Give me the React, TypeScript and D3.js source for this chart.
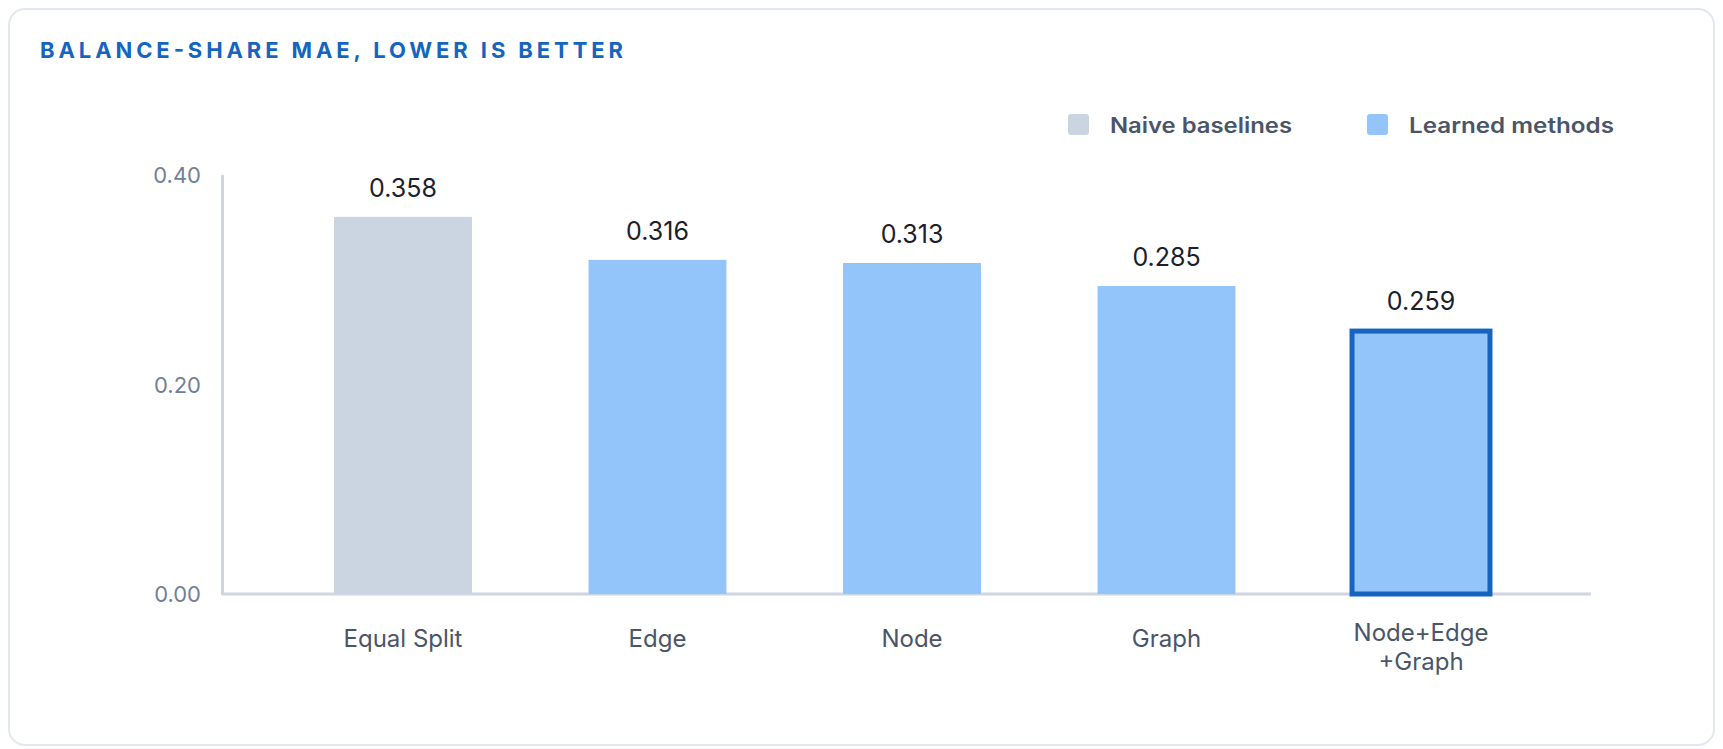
import React from "react";
import * as d3 from "d3";

const categories = ["Equal Split", "Edge", "Node", "Graph", "Node+Edge+Graph"];
const categoryLines = [["Equal Split"], ["Edge"], ["Node"], ["Graph"], ["Node+Edge", "+Graph"]];
const barValues = [0.36, 0.319, 0.316, 0.294, 0.251];
const valueLabels = ["0.358", "0.316", "0.313", "0.285", "0.259"];
const groups = ["naive", "learned", "learned", "learned", "learned"];
const highlighted = ["Node+Edge+Graph"];
const yTicks = [0, 0.2, 0.4];
const legendItems = [
  { key: "naive", label: "Naive baselines" },
  { key: "learned", label: "Learned methods" },
];

const W = 1723;
const H = 749;
const FONT = "Inter, 'Open Sans', 'DejaVu Sans', sans-serif";
const colors: Record<string, string> = { naive: "#cbd5e1", learned: "#93c5fb" };
const HIGHLIGHT = "#1565c0";
const AXIS = "#cdd6e2";

export default function App() {
  const axisX = 222.5;
  const y = d3.scaleLinear().domain([0, 0.4]).range([594, 175]);
  const x = d3
    .scaleBand<string>()
    .domain(categories)
    .range([275.75, 1548.25])
    .paddingInner(0.458)
    .paddingOuter(0.229);
  const fmt = d3.format(".2f");
  const axisPath = d3.path();
  axisPath.moveTo(axisX, y(0.4));
  axisPath.lineTo(axisX, y(0));
  axisPath.lineTo(1591, y(0));

  return (
    <svg
      width={W}
      height={H}
      style={{ position: "fixed", left: 0, top: 0, background: "#ffffff" }}
      fontFamily={FONT}
    >
      <rect x={9} y={9} width={1705} height={736} rx={16} ry={16} fill="#ffffff" stroke="#e3e8f0" strokeWidth={2} />
      <text x={40} y={58} fontSize={22} fontWeight={700} fill={HIGHLIGHT} textLength={583} lengthAdjust="spacing">
        BALANCE-SHARE MAE, LOWER IS BETTER
      </text>

      {legendItems.map((item, i) => {
        const lx = [1068, 1367][i];
        const tw = [182, 205][i];
        return (
          <g key={item.key}>
            <rect x={lx} y={114} width={21} height={21} rx={3} fill={colors[item.key]} />
            <text x={lx + 42} y={125} dominantBaseline="central" fontSize={21} fontWeight={600} fill="#4a5568" textLength={tw} lengthAdjust="spacingAndGlyphs">
              {item.label}
            </text>
          </g>
        );
      })}

      {yTicks.map((t) => (
        <text key={t} x={201} y={y(t)} dominantBaseline="central" textAnchor="end" fontSize={22} fill="#718096">
          {fmt(t)}
        </text>
      ))}

      <path d={axisPath.toString()} fill="none" stroke={AXIS} strokeWidth={3} strokeLinejoin="round" />

      {categories.map((c, i) => {
        const isHi = highlighted.includes(c);
        const bx = x(c)!;
        const top = y(barValues[i]);
        return (
          <g key={c}>
            <rect
              x={bx}
              y={top}
              width={x.bandwidth()}
              height={y(0) - top}
              fill={colors[groups[i]]}
              stroke={isHi ? HIGHLIGHT : "none"}
              strokeWidth={isHi ? 5 : 0}
            />
            <text x={bx + x.bandwidth() / 2} y={top - (isHi ? 21 : 20)} textAnchor="middle" fontSize={25} fill="#1a202c">
              {valueLabels[i]}
            </text>
          </g>
        );
      })}

      {categories.map((c, i) => {
        const lines = categoryLines[i];
        const cx = x(c)! + x.bandwidth() / 2;
        const base = lines.length > 1 ? 641 : 647;
        return (
          <text key={c} x={cx} y={base} textAnchor="middle" fontSize={24} fill="#4a5568">
            {lines.map((l, j) => (
              <tspan key={j} x={cx} y={base + j * 29}>
                {l}
              </tspan>
            ))}
          </text>
        );
      })}
    </svg>
  );
}
